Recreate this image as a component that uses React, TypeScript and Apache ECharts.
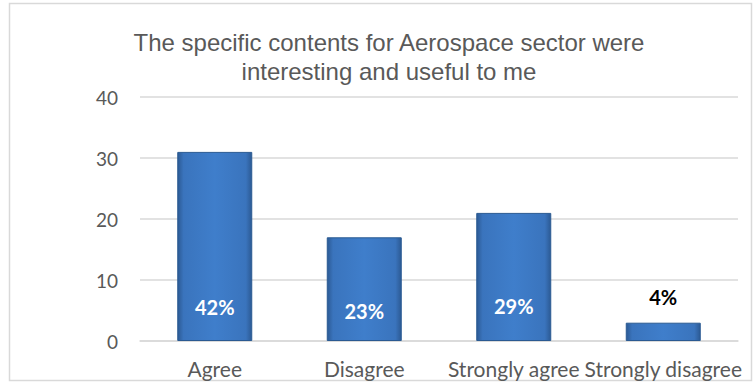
import React, { useEffect, useRef } from "react";
import * as echarts from "echarts";

const titleLines = [
  "The specific contents for Aerospace sector were",
  "interesting and useful to me",
];
const categories = ["Agree", "Disagree", "Strongly agree", "Strongly disagree"];
const values = [31, 17, 21, 3];
const percentLabels = ["42%", "23%", "29%", "4%"];
const yMin = 0;
const yMax = 40;
const yInterval = 10;

export default function App() {
  const ref = useRef<HTMLDivElement>(null);
  useEffect(() => {
    if (!ref.current) return;
    const chart = echarts.init(ref.current, null, { renderer: "svg" });
    const barColor = new echarts.graphic.LinearGradient(0, 0, 1, 0, [
      { offset: 0, color: "#2c5a94" },
      { offset: 0.08, color: "#3a74bd" },
      { offset: 0.5, color: "#3f7ecb" },
      { offset: 0.92, color: "#3a74bd" },
      { offset: 1, color: "#2c5a94" },
    ]);
    const insideDist = [24, 20, 25, -1];
    const data = values.map((v, i) => {
      const outside = insideDist[i] < 0;
      return {
        value: v,
        label: {
          show: true,
          formatter: percentLabels[i],
          position: outside ? "top" : "insideBottom",
          distance: outside ? 16 : insideDist[i],
          color: outside ? "#000000" : "#ffffff",
          fontFamily: "Lato",
          fontWeight: "bold",
          fontSize: 20,
        },
      };
    });
    chart.setOption({
      animation: false,
      backgroundColor: "#ffffff",
      graphic: [
        {
          type: "rect",
          shape: { x: 9.5, y: 3.5, width: 742, height: 377 },
          style: { fill: "none", stroke: "#d9d9d9", lineWidth: 1.5 },
          silent: true,
        },
        {
          type: "text",
          x: 389,
          y: 28,
          style: {
            text: titleLines.join("\n"),
            textAlign: "center",
            fontFamily: "Liberation Sans",
            fontSize: 24,
            lineHeight: 29,
            fill: "#595959",
          },
        },
      ],
      grid: { left: 140, right: 17, top: 97, bottom: 42 },
      xAxis: {
        type: "category",
        data: categories,
        axisLine: { lineStyle: { color: "#d9d9d9", width: 1.5 } },
        axisTick: { show: false },
        axisLabel: {
          color: "#595959",
          fontFamily: "Lato",
          fontSize: 21,
          margin: 17,
          interval: 0,
        },
      },
      yAxis: {
        type: "value",
        min: yMin,
        max: yMax,
        interval: yInterval,
        axisLine: { show: false },
        axisTick: { show: false },
        splitLine: { lineStyle: { color: "#d9d9d9", width: 1.5 } },
        axisLabel: {
          color: "#595959",
          fontFamily: "Lato",
          fontSize: 19,
          margin: 22,
        },
      },
      series: [
        {
          type: "bar",
          data,
          barWidth: 75,
          itemStyle: { color: barColor, borderColor: "#2a5a92", borderWidth: 1 },
        },
      ],
    });
    return () => chart.dispose();
  }, []);
  return (
    <div
      ref={ref}
      style={{ position: "fixed", left: 0, top: 0, width: 755, height: 383 }}
    />
  );
}
